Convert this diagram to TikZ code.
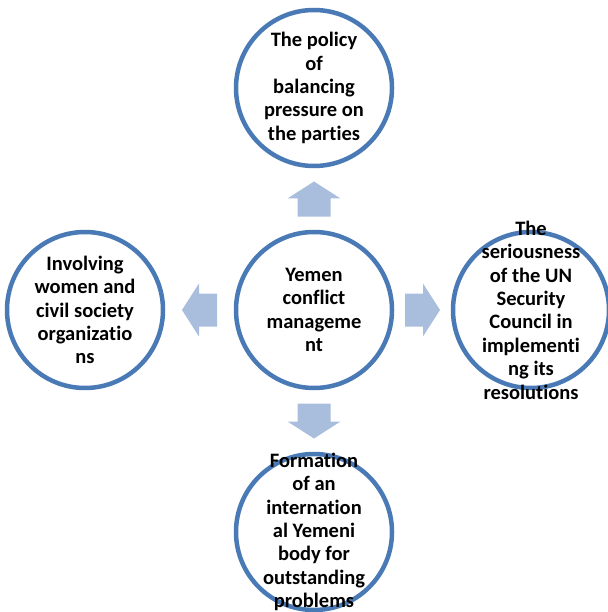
\documentclass[tikz,border=0pt]{standalone}
\usepackage{fontspec}
\setmainfont[Ligatures={NoCommon,NoContextual,NoRare}]{Carlito}
\usetikzlibrary{calc}
\definecolor{ringblue}{HTML}{4A7AB5}
\definecolor{arrowblue}{HTML}{A9BDDC}

\begin{document}
\begin{tikzpicture}[x=1pt, y=-1pt,
  ring/.style={circle, draw=ringblue, line width=4.5pt, minimum size=156pt, inner sep=0pt},
  caption/.style={align=center, inner sep=0pt, font=\fontsize{20.5pt}{23.4pt}\selectfont\bfseries},
  blockarrow/.style={fill=arrowblue, draw=none}]
\useasboundingbox (0,0) rectangle (607,612);
\node[ring] (c) at (314,310){};
\node[ring] (t) at (314,88){};
\node[ring] (l) at (85,310){};
\node[ring] (r) at (531,310){};
\node[ring] (b) at (314,532){};
\node[caption] (ctext) at (c){Yemen\\conflict\\manageme\\nt};
\node[caption] (ttext) at (t){The policy\\of\\balancing\\pressure on\\the parties};
\node[caption] (ltext) at (l){Involving\\women and\\civil society\\organizat\kern0pt io\\ns};
\node[caption] (rtext) at (r){The\\seriousness\\of the UN\\Security\\Council in\\implement\kern0pt i\\ng its\\resolutions};
\node[caption] (btext) at (b){Format\kern0pt ion\\of an\\internat\kern0pt ion\\al Yemeni\\body for\\outstanding\\problems};
% block arrows halfway between the middle circle and the outer ones
\foreach \to/\dir in {t/90,l/180,r/0,b/-90}{
\coordinate (m\to) at ($(c)!0.5!(\to)$);
\fill[blockarrow, shift={(m\to)}, rotate=\dir] (-17.5,-16.5) -- (0.5,-16.5) -- (0.5,-26.5)
  -- (17.5,0) -- (0.5,26.5) -- (0.5,16.5) -- (-17.5,16.5) -- cycle;
}
\end{tikzpicture}
\end{document}
